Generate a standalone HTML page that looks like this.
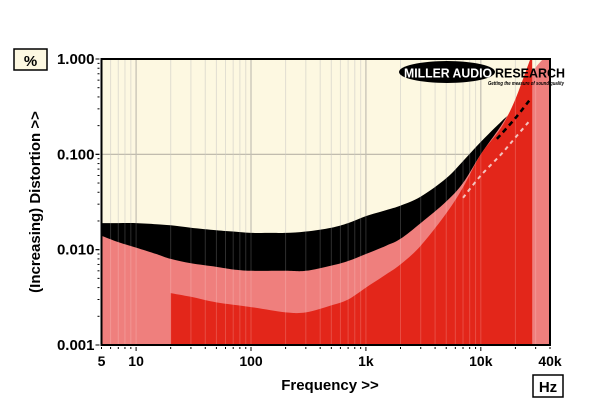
<!DOCTYPE html>
<html><head><meta charset="utf-8"><style>
html,body{margin:0;padding:0;background:#fff;}
svg{display:block;font-family:"Liberation Sans",Arial,sans-serif;}
</style></head><body>
<svg id="chart" width="600" height="414" viewBox="0 0 600 414">
  <rect x="0" y="0" width="600" height="414" fill="#fff"/>
  <g id="plot"></g>
  <g id="axes"></g>
  <rect x="14" y="49" width="33" height="21" fill="#fdf8e1" stroke="#000" stroke-width="1.5"/>
  <text x="30.5" y="66" font-size="15" font-weight="bold" text-anchor="middle">%</text>
  <rect x="533" y="375" width="30" height="22" fill="#fff" stroke="#000" stroke-width="1.5"/>
  <text x="548" y="392" font-size="15" font-weight="bold" text-anchor="middle">Hz</text>
  <text x="330" y="390" font-size="15" font-weight="bold" text-anchor="middle">Frequency &gt;&gt;</text>
  <text transform="translate(40,202) rotate(-90)" font-size="15" font-weight="bold" text-anchor="middle">(Increasing) Distortion &gt;&gt;</text>
  <g>
    <ellipse cx="447" cy="72" rx="48" ry="11" fill="#000"/>
    <text x="404" y="77.5" font-size="13" font-weight="bold" fill="#fff" textLength="88" lengthAdjust="spacingAndGlyphs">MILLER AUDIO</text>
    <text x="495" y="77.5" font-size="13" font-weight="bold" fill="#000" textLength="70" lengthAdjust="spacingAndGlyphs">RESEARCH</text>
    <text x="488" y="85" font-size="5" font-style="italic" font-weight="bold" fill="#000" textLength="76" lengthAdjust="spacingAndGlyphs">Getting the measure of sound quality</text>
  </g>
</svg>
<script>
// ---- data ----
const blackFreq = [5,7,10,15,20,30,50,70,100,150,200,300,500,700,1000,1500,2000,3000,5000,7000,10000,15000,20000,30000,40000];
const blackUpper = [0.019,0.019,0.019,0.0185,0.018,0.017,0.016,0.0155,0.015,0.015,0.015,0.0155,0.017,0.019,0.0225,0.026,0.029,0.036,0.056,0.085,0.135,0.22,0.3,0.5,0.7];
const pinkFreq = [5,7,10,15,20,30,50,70,100,200,300,500,700,1000,1500,2000,3000,5000,7000,10000,15000,20000,27000,35000,40000];
const pinkTop = [0.014,0.012,0.0105,0.009,0.008,0.0072,0.0066,0.0062,0.006,0.006,0.006,0.0068,0.0076,0.009,0.011,0.013,0.019,0.032,0.05,0.1,0.2,0.35,0.68,1.0,1.0];
const redFreq = [20,30,50,100,200,300,500,700,1000,1500,2000,3000,5000,7000,10000,15000,20000,27000,28000];
const redTop = [0.0035,0.0032,0.0028,0.0025,0.0022,0.0022,0.0026,0.003,0.004,0.0055,0.007,0.011,0.024,0.045,0.1,0.19,0.38,1.0,1.0];
const dashBlackFreq = [13800,20000,27000];
const dashBlackVal = [0.145,0.24,0.38];
const dashWhiteFreq = [7000,10000,15000,20000,27000];
const dashWhiteVal = [0.035,0.06,0.1,0.15,0.23];
const xTickValues = [5,10,100,1000,10000,40000];
const xTickLabels = ["5","10","100","1k","10k","40k"];
const yTickValues = [1,0.1,0.01,0.001];
const yTickLabels = ["1.000","0.100","0.010","0.001"];

// ---- axis functions ----
const L=101.5,R=550,T=59,B=345;
const fMin=5,fMax=40000,vMin=0.001,vMax=1;
function X(f){return L+(Math.log10(f)-Math.log10(fMin))/(Math.log10(fMax)-Math.log10(fMin))*(R-L);}
function Y(v){return T+(Math.log10(vMax)-Math.log10(v))/(Math.log10(vMax)-Math.log10(vMin))*(B-T);}
const NS="http://www.w3.org/2000/svg";
function mk(tag,attrs,parent){const e=document.createElementNS(NS,tag);for(const k in attrs)e.setAttribute(k,attrs[k]);parent.appendChild(e);return e;}
const plot=document.getElementById('plot'), axes=document.getElementById('axes');

let bg=mk('rect',{x:L,y:T,width:R-L,height:B-T,fill:'#fdf8e1'},plot);



for(let d=1;d<=10000;d*=10){for(let m=1;m<10;m++){const f=d*m;if(f<fMin||f>fMax)continue;
  let g=mk('line',{x1:X(f),x2:X(f),y1:T,y2:B,stroke:m===1?'#b8b4a6':'#dcd8c8','stroke-width':m===1?1.2:1},plot);
  
  }}
[0.1,0.01].forEach(v=>{let g=mk('line',{x1:L,x2:R,y1:Y(v),y2:Y(v),stroke:'#b8b4a6','stroke-width':1.2},plot);
  
  });

function smooth(pts){let d='';
  for(let i=0;i<pts.length-1;i++){const p0=pts[Math.max(0,i-1)],p1=pts[i],p2=pts[i+1],p3=pts[Math.min(pts.length-1,i+2)];
    const c1x=p1[0]+(p2[0]-p0[0])/6,c1y=p1[1]+(p2[1]-p0[1])/6,c2x=p2[0]-(p3[0]-p1[0])/6,c2y=p2[1]-(p3[1]-p1[1])/6;
    d+=' C'+c1x.toFixed(1)+','+c1y.toFixed(1)+' '+c2x.toFixed(1)+','+c2y.toFixed(1)+' '+p2[0].toFixed(1)+','+p2[1].toFixed(1);}
  return d;}
function areaPath(fs,vs){const pts=fs.map((f,i)=>[X(f),Y(vs[i])]);
  let d='M'+pts[0][0].toFixed(1)+','+B+' L'+pts[0][0].toFixed(1)+','+pts[0][1].toFixed(1)+smooth(pts);
  d+=' L'+pts[pts.length-1][0].toFixed(1)+','+B+' Z';return d;}
function linePath(fs,vs){const pts=fs.map((f,i)=>[X(f),Y(vs[i])]);return 'M'+pts[0][0].toFixed(1)+','+pts[0][1].toFixed(1)+smooth(pts);}

mk('clipPath',{id:'pc'},plot);
const cp=document.getElementById('pc');mk('rect',{x:L,y:T,width:R-L,height:B-T},cp);
const layer=mk('g',{'clip-path':'url(#pc)'},plot);



let ba=mk('path',{d:areaPath(blackFreq,blackUpper),fill:'#000'},layer);


let pa=mk('path',{d:areaPath(pinkFreq,pinkTop),fill:'#ef7f7d'},layer);


let ra=mk('path',{d:areaPath(redFreq,redTop),fill:'#e3261a'},layer);



for(let d=1;d<=10000;d*=10){for(let m=1;m<10;m++){const f=d*m;if(f<fMin||f>fMax)continue;
  let g=mk('line',{x1:X(f),x2:X(f),y1:T,y2:B,stroke:'#ffffff','stroke-opacity':0.18,'stroke-width':1},layer);
  
  }}

let db=mk('path',{d:linePath(dashBlackFreq,dashBlackVal),fill:'none',stroke:'#000','stroke-width':2.5,'stroke-dasharray':'5,4'},layer);


let dw=mk('path',{d:linePath(dashWhiteFreq,dashWhiteVal),fill:'none',stroke:'#f4c4c0','stroke-width':2,'stroke-dasharray':'4,4'},layer);



let fr=mk('rect',{x:L,y:T,width:R-L,height:B-T,fill:'none',stroke:'#000','stroke-width':2},axes);



for(let d=1;d<=10000;d*=10){for(let m=1;m<10;m++){const f=d*m;if(f<fMin||f>fMax)continue;
  let t=mk('line',{x1:X(f),x2:X(f),y1:B+2,y2:B+(m===1?6:4),stroke:'#000','stroke-width':1},axes);
  
  }}
xTickValues.forEach((v,i)=>{let t=mk('text',{x:X(v),y:B+21,'font-size':14,'font-weight':'bold','text-anchor':'middle'},axes);
  t.textContent=xTickLabels[i];
  
  });
for(let d=0.001;d<1;d*=10){for(let m=1;m<=10;m++){const v=d*m;
  let t=mk('line',{x1:L-(m===1||m===10?6:4),x2:L-2,y1:Y(v),y2:Y(v),stroke:'#000','stroke-width':1},axes);
  
  }}
yTickValues.forEach((v,i)=>{let t=mk('text',{x:L-7,y:Y(v)+5,'font-size':15,'font-weight':'bold','text-anchor':'end'},axes);
  t.textContent=yTickLabels[i];
  
  });
</script>
</body></html>
